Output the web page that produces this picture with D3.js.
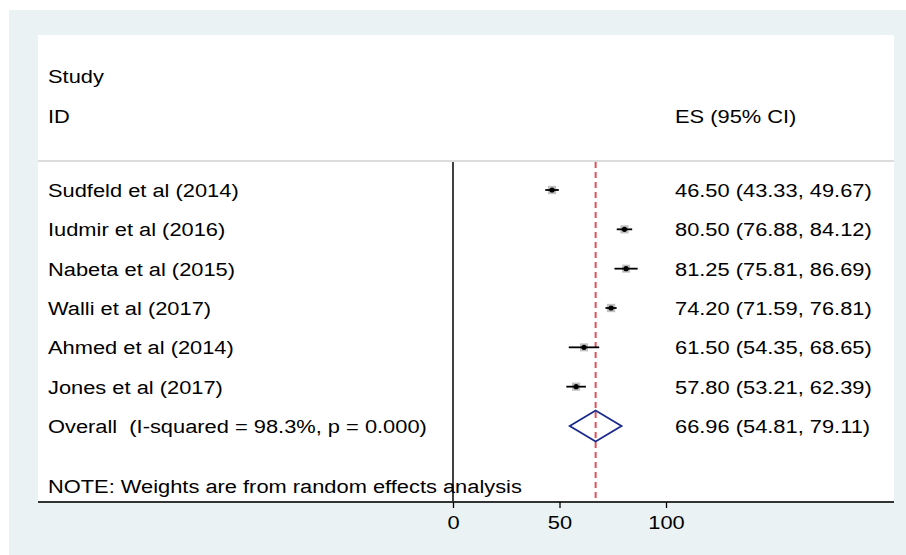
<!DOCTYPE html>
<html><head><meta charset="utf-8">
<script src="https://cdn.jsdelivr.net/npm/d3@7"></script>
<style>body{margin:0;background:#fff}svg{display:block}</style>
</head><body>
<svg id="c" width="906" height="555"></svg>
<script>
const studies = ["Sudfeld et al (2014)","Iudmir et al (2016)","Nabeta et al (2015)","Walli et al (2017)","Ahmed et al (2014)","Jones et al (2017)"];
const es = [46.50, 80.50, 81.25, 74.20, 61.50, 57.80];
const lo = [43.33, 76.88, 75.81, 71.59, 54.35, 53.21];
const hi = [49.67, 84.12, 86.69, 76.81, 68.65, 62.39];
const weights = [17.0, 16.7, 16.0, 17.3, 16.2, 16.8];
const overallLabel = "Overall\u00a0\u00a0(I-squared = 98.3%, p = 0.000)";
const overall = {es: 66.96, lo: 54.81, hi: 79.11};
const xTicks = [0, 50, 100];
const fmt = d3.format(".2f");

const svg = d3.select("#c");
const font = "'Liberation Sans', Arial, sans-serif";
const fs = 19, sx = 1.15;
svg.append("rect").attr("x",9).attr("y",10).attr("width",897).attr("height",545).attr("fill","rgb(234,242,243)");
const panel = {l:38, r:894, t:35, b:502};
svg.append("rect").attr("x",panel.l).attr("y",panel.t).attr("width",panel.r-panel.l).attr("height",panel.b-panel.t).attr("fill","#fff");

const x = d3.scaleLinear().domain([0,100]).range([453,666]);
const rowY = d3.scaleLinear().domain([0,6]).range([190,426]);
const plotTop = 162;

const tx = 48, rx = 675;
const txt = (s, xx, yy, anchor="start") => svg.append("text")
  .attr("transform",`translate(${xx},${yy}) scale(${sx},1)`)
  .attr("font-family",font).attr("font-size",fs).attr("fill","#000").attr("text-anchor",anchor)
  .attr("dominant-baseline","central").text(s);
txt("Study", tx, 76);
txt("ID", tx, 116);
txt("ES (95% CI)", rx, 116);
svg.append("line").attr("x1",panel.l).attr("x2",panel.r).attr("y1",161).attr("y2",161).attr("stroke","#d0d0d0").attr("stroke-width",1.5);

studies.forEach((s,i)=>{
  txt(s, tx, rowY(i));
  txt(fmt(es[i])+" ("+fmt(lo[i])+", "+fmt(hi[i])+")", rx, rowY(i));
});
txt(overallLabel, tx, rowY(6));
txt(fmt(overall.es)+" ("+fmt(overall.lo)+", "+fmt(overall.hi)+")", rx, rowY(6));
txt("NOTE: Weights are from random effects analysis", tx, 486);

svg.append("line").attr("x1",x(0)).attr("x2",x(0)).attr("y1",plotTop).attr("y2",panel.b).attr("stroke","#000").attr("stroke-width",1.5);
svg.append("line").attr("x1",x(overall.es)).attr("x2",x(overall.es)).attr("y1",plotTop).attr("y2",panel.b)
  .attr("stroke","#e0505a").attr("stroke-width",2).attr("stroke-dasharray","6,4");

const g = svg.append("g");
studies.forEach((s,i)=>{
  const y = rowY(i);
  const w = Math.sqrt(weights[i])*2;
  g.append("rect").attr("x",x(es[i])-w/2).attr("y",y-w/2).attr("width",w).attr("height",w).attr("fill","#b5b5b5").attr("opacity",0.85);
  g.append("line").attr("x1",x(lo[i])).attr("x2",x(hi[i])).attr("y1",y).attr("y2",y).attr("stroke","#000").attr("stroke-width",1.8);
  g.append("circle").attr("cx",x(es[i])).attr("cy",y).attr("r",2.6).attr("fill","#000");
});
const yo = rowY(6), h = 15.5;
g.append("path").attr("d",`M${x(overall.lo)},${yo}L${x(overall.es)},${yo-h}L${x(overall.hi)},${yo}L${x(overall.es)},${yo+h}Z`)
  .attr("fill","none").attr("stroke","#1a2a8c").attr("stroke-width",1.8);

const ax = svg.append("g").attr("transform",`translate(0,${panel.b})`);
ax.append("line").attr("x1",panel.l).attr("x2",panel.r).attr("y1",0).attr("y2",0).attr("stroke","#333").attr("stroke-width",2);
const axis = d3.axisBottom(x).tickValues(xTicks).tickSize(6).tickPadding(7);
const axg = ax.append("g").call(axis);
axg.select(".domain").remove();
axg.selectAll(".tick line").attr("stroke","#000").attr("stroke-width",1.3);
axg.selectAll(".tick text").attr("font-family",font).attr("font-size",fs).attr("fill","#000").attr("dy","0.72em")
  .attr("transform",`scale(${sx},1)`);
</script>
</body></html>
